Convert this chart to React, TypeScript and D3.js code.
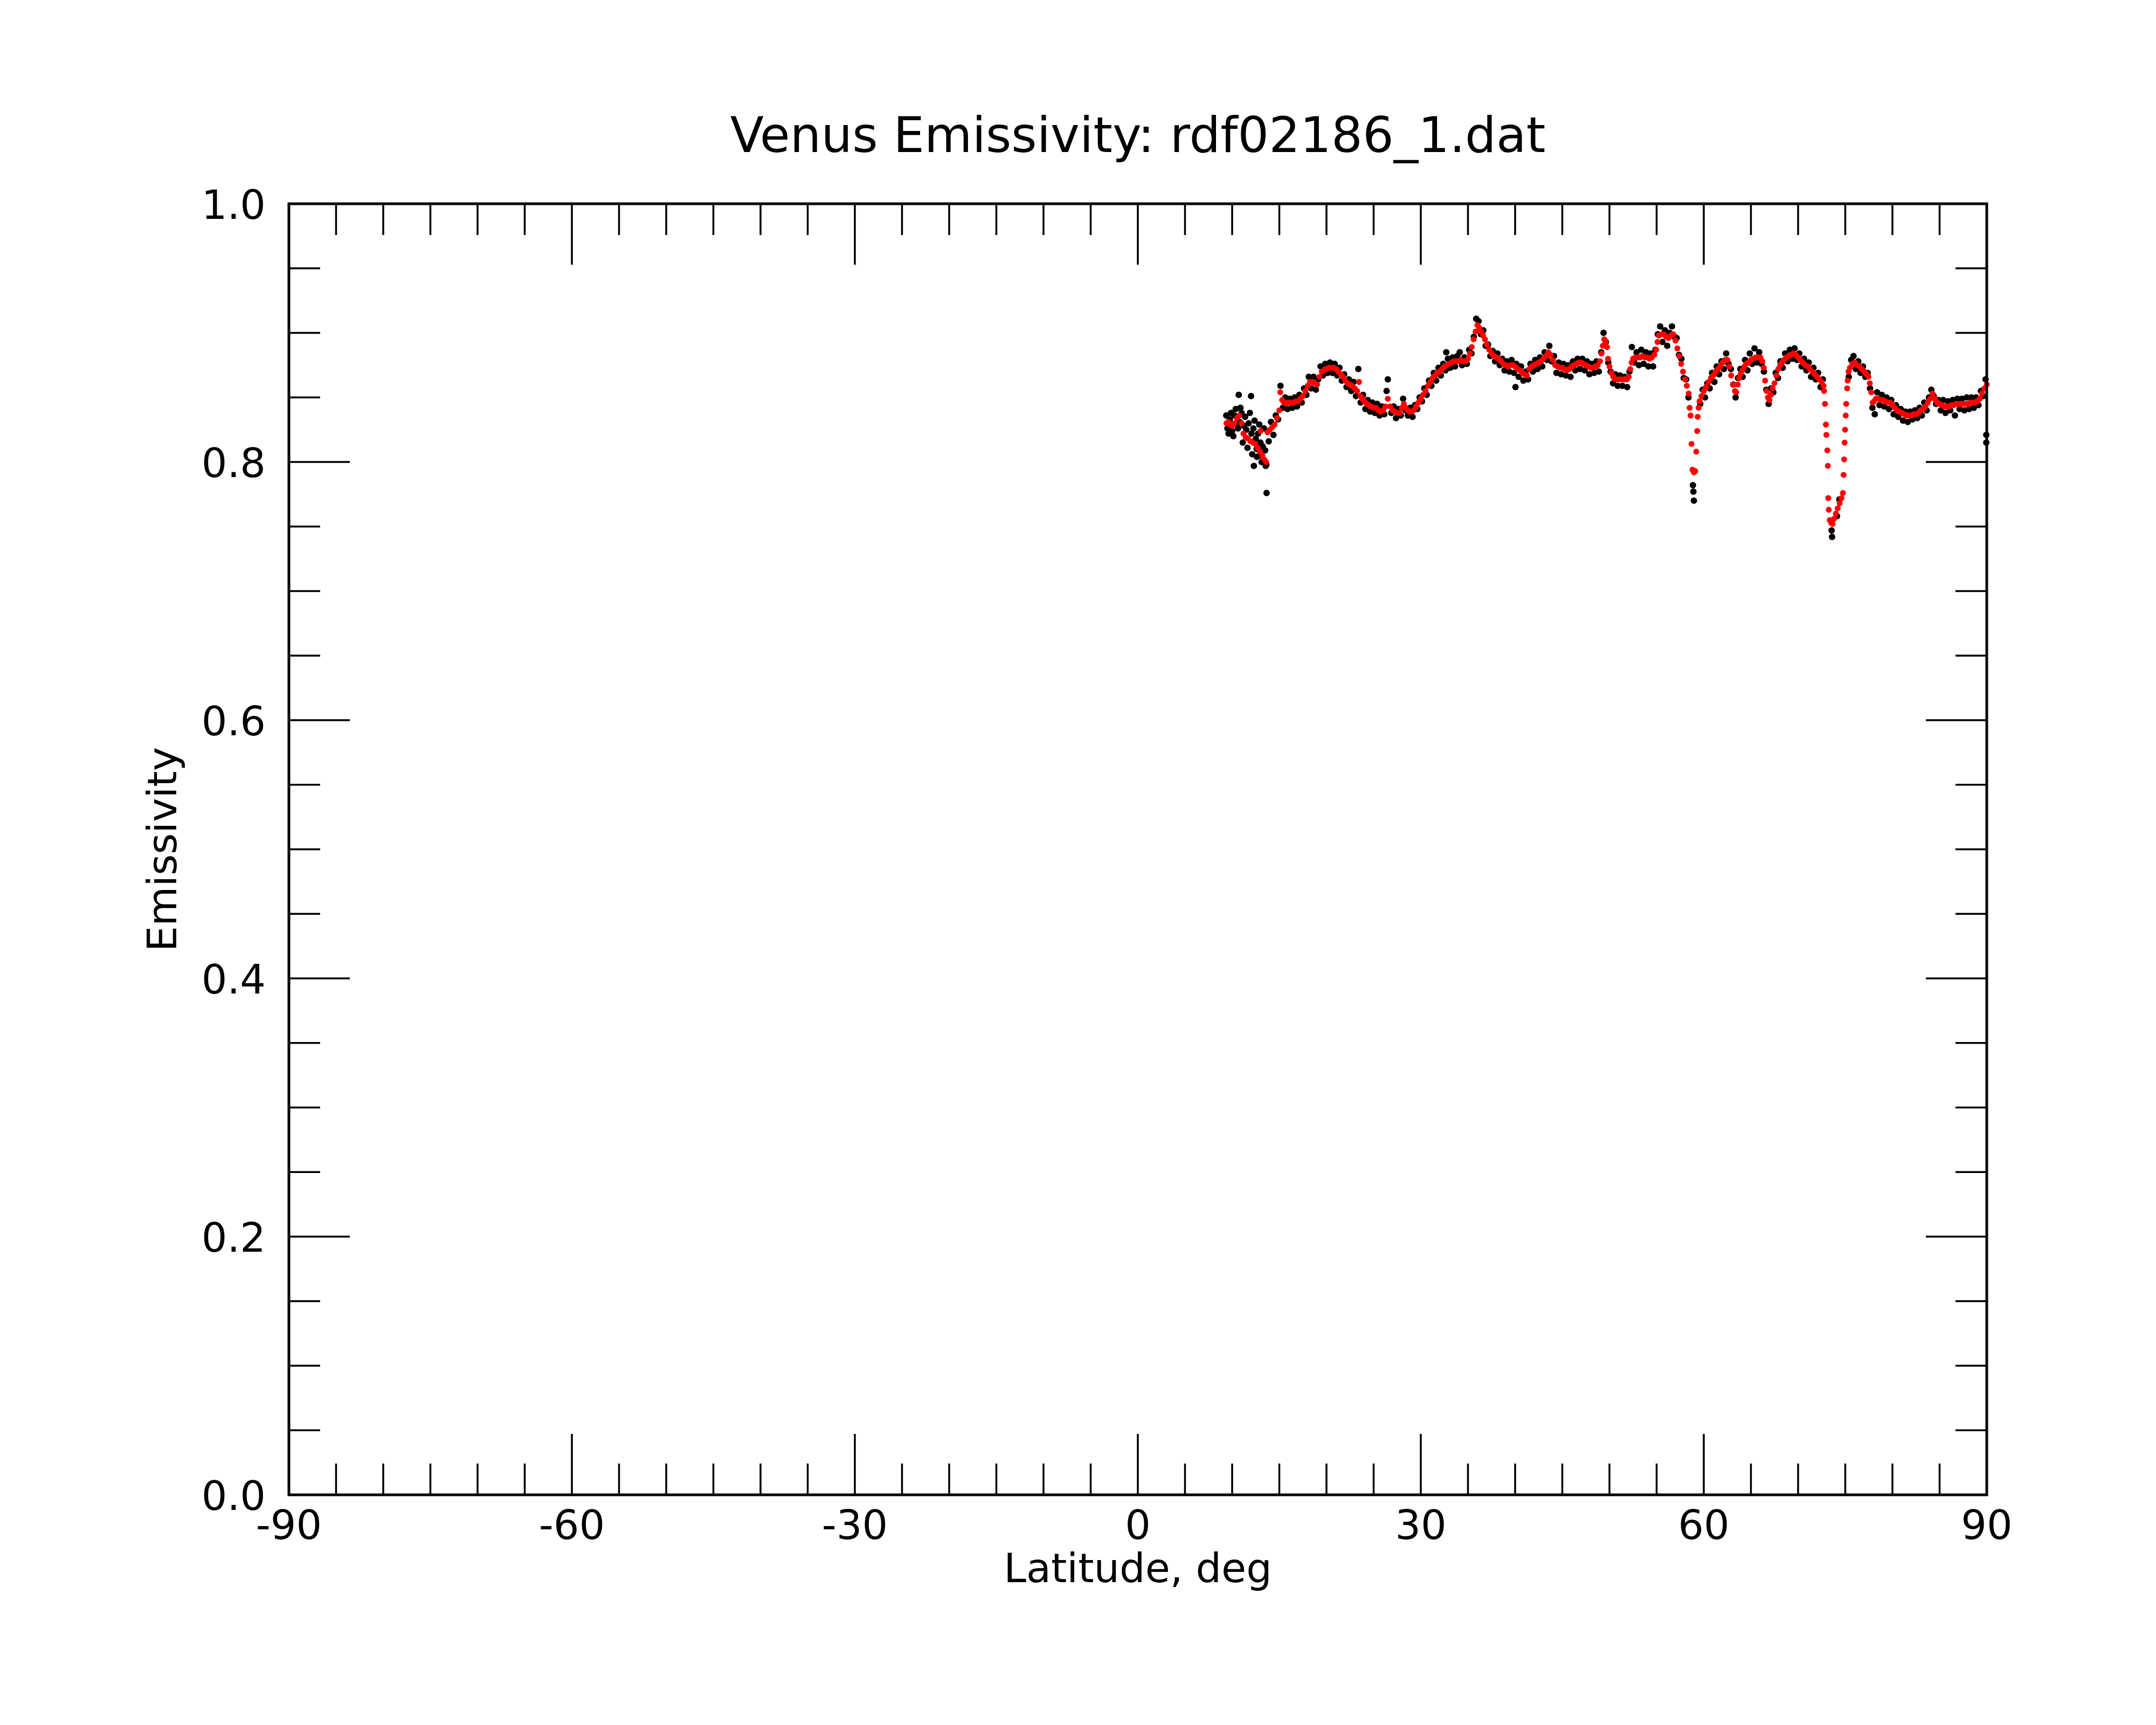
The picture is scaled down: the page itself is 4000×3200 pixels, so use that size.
import * as d3 from 'd3'

// smoothed emissivity (red)
const smoothed: [number, number][] = [
  [9.4,.830],[9.6,.831],[9.8,.829],[10.0,.828],[10.25,.830],[10.5,.834],[10.75,.836],[11.0,.830],[11.2,.822],[11.45,.819],
  [11.7,.818],[11.95,.816],[12.2,.815],[12.45,.814],[12.7,.811],[12.95,.808],[13.0,.824],[13.2,.805],[13.4,.802],[13.6,.800],
  [13.75,.823],[14.0,.825],[14.25,.827],[14.5,.829],[14.75,.834],[15.0,.840],[15.1,.854],[15.3,.848],[15.5,.846],[15.75,.845],
  [16.0,.846],[16.25,.846],[16.5,.846],[16.75,.847],[17.0,.847],[17.25,.849],[17.5,.851],[17.75,.855],[18.0,.859],[18.25,.862],
  [18.5,.862],[18.75,.861],[19.0,.860],[19.25,.866],[19.5,.870],[19.75,.871],[20.0,.872],[20.25,.873],[20.5,.873],[20.75,.873],
  [21.0,.872],[21.25,.870],[21.5,.868],[21.75,.866],[22.0,.863],[22.25,.861],[22.5,.860],[22.75,.859],[23.0,.857],[23.25,.855],
  [23.45,.862],[23.6,.851],[23.8,.849],[24.0,.847],[24.25,.845],[24.5,.844],[24.75,.843],[25.0,.842],[25.25,.842],[25.5,.840],
  [25.75,.839],[26.0,.840],[26.25,.843],[26.5,.849],[26.75,.843],[27.0,.840],[27.25,.839],[27.5,.838],[27.75,.838],[28.0,.842],
  [28.2,.845],[28.4,.842],[28.6,.840],[28.8,.839],[29.0,.839],[29.25,.840],[29.5,.843],[29.75,.846],[30.0,.849],[30.25,.852],
  [30.5,.855],[30.75,.859],[31.0,.862],[31.25,.865],[31.5,.867],[31.75,.869],[32.0,.870],[32.25,.872],[32.5,.874],[32.75,.875],
  [33.0,.876],[33.25,.877],[33.5,.878],[33.75,.878],[34.0,.878],[34.25,.879],[34.5,.878],[34.75,.878],[35.0,.880],[35.2,.884],
  [35.4,.889],[35.6,.895],[35.8,.901],[36.0,.906],[36.2,.904],[36.4,.901],[36.6,.898],[36.8,.895],[37.0,.891],[37.25,.887],
  [37.5,.884],[37.75,.882],[38.0,.881],[38.25,.880],[38.5,.878],[38.75,.876],[39.0,.875],[39.25,.874],[39.5,.875],[39.75,.875],
  [40.0,.874],[40.25,.872],[40.5,.871],[40.75,.869],[41.0,.868],[41.25,.867],[41.5,.872],[41.75,.874],[42.0,.875],[42.25,.876],
  [42.5,.877],[42.75,.878],[43.0,.880],[43.25,.882],[43.5,.885],[43.75,.883],[44.0,.879],[44.25,.875],[44.5,.874],[44.75,.873],
  [45.0,.873],[45.25,.872],[45.5,.871],[45.75,.872],[46.0,.874],[46.25,.875],[46.5,.876],[46.75,.877],[47.0,.877],[47.25,.876],
  [47.5,.875],[47.75,.874],[48.0,.873],[48.25,.873],[48.5,.874],[48.75,.875],[49.0,.878],[49.15,.884],[49.3,.890],[49.45,.895],
  [49.6,.893],[49.75,.889],[49.85,.880],[50.0,.874],[50.2,.869],[50.4,.866],[50.6,.864],[50.85,.864],[51.1,.864],[51.35,.864],
  [51.6,.864],[51.85,.864],[52.05,.866],[52.2,.872],[52.35,.877],[52.5,.880],[52.75,.881],[53.0,.881],[53.25,.881],[53.5,.882],
  [53.75,.881],[54.0,.881],[54.25,.880],[54.5,.881],[54.75,.883],[54.95,.887],[55.1,.893],[55.25,.898],[55.5,.899],[55.75,.899],
  [56.0,.897],[56.25,.896],[56.5,.898],[56.75,.899],[57.0,.894],[57.2,.888],[57.4,.882],[57.6,.876],[57.8,.870],[58.0,.864],
  [58.2,.859],[58.4,.853],[58.5,.842],[58.6,.836],[58.7,.814],[58.8,.794],[58.95,.792],[59.1,.793],[59.2,.808],[59.3,.824],
  [59.35,.835],[59.45,.842],[59.55,.847],[59.75,.851],[60.0,.855],[60.25,.858],[60.5,.862],[60.75,.865],[61.0,.867],[61.25,.870],
  [61.5,.872],[61.75,.874],[62.0,.877],[62.25,.879],[62.5,.879],[62.7,.874],[62.9,.867],[63.1,.860],[63.3,.855],[63.45,.854],
  [63.6,.860],[63.75,.865],[63.9,.868],[64.1,.871],[64.3,.874],[64.5,.876],[64.75,.877],[65.0,.879],[65.25,.880],[65.5,.881],
  [65.75,.881],[66.0,.881],[66.2,.878],[66.35,.873],[66.5,.863],[66.65,.855],[66.8,.850],[66.95,.848],[67.1,.852],[67.3,.857],
  [67.5,.861],[67.7,.867],[67.9,.872],[68.1,.875],[68.3,.877],[68.5,.879],[68.75,.881],[69.0,.882],[69.25,.883],[69.5,.884],
  [69.75,.883],[70.0,.881],[70.25,.879],[70.5,.877],[70.75,.875],[71.0,.874],[71.25,.872],[71.5,.870],[71.75,.868],[72.0,.866],
  [72.25,.864],[72.5,.862],[72.7,.859],[72.75,.855],[72.85,.845],[72.95,.829],[73.0,.821],[73.1,.809],[73.15,.797],[73.2,.772],
  [73.25,.763],[73.35,.755],[73.5,.753],[73.65,.752],[73.8,.756],[74.0,.760],[74.2,.764],[74.4,.768],[74.6,.772],[74.75,.776],
  [74.82,.790],[74.88,.802],[74.93,.815],[74.98,.825],[75.05,.836],[75.1,.845],[75.2,.857],[75.25,.863],[75.35,.870],[75.5,.873],
  [75.75,.876],[76.0,.877],[76.25,.875],[76.5,.874],[76.75,.872],[77.0,.870],[77.25,.868],[77.45,.866],[77.6,.861],[77.75,.854],
  [77.9,.846],[78.05,.847],[78.25,.849],[78.5,.849],[78.75,.848],[79.0,.848],[79.25,.847],[79.5,.846],[79.75,.846],[80.0,.844],
  [80.25,.842],[80.5,.840],[80.75,.839],[81.0,.838],[81.25,.837],[81.5,.836],[81.75,.836],[82.0,.836],[82.25,.837],[82.5,.837],
  [82.75,.838],[83.0,.840],[83.25,.841],[83.5,.843],[83.75,.846],[84.0,.849],[84.25,.853],[84.5,.849],[84.75,.846],[85.0,.845],
  [85.25,.844],[85.5,.843],[85.75,.843],[86.0,.843],[86.25,.844],[86.5,.844],[86.75,.845],[87.0,.845],[87.25,.845],[87.5,.845],
  [87.75,.845],[88.0,.845],[88.25,.846],[88.5,.846],[88.75,.846],[89.0,.847],[89.25,.849],[89.5,.853],[89.75,.857],[90.0,.860],
]

// raw emissivity samples (black)
const measured: [number, number][] = [
  [9.375,.836],[9.5,.826],[9.625,.822],[9.75,.833],[9.875,.838],[10.0,.824],[10.125,.820],[10.25,.836],[10.375,.841],[10.5,.829],
  [10.625,.826],[10.7,.852],[10.8,.831],[10.875,.842],[11.0,.838],[11.125,.815],[11.25,.828],[11.375,.835],[11.5,.825],[11.625,.811],
  [11.75,.830],[11.875,.838],[12.0,.851],[12.05,.822],[12.125,.806],[12.25,.826],[12.3,.797],[12.375,.832],[12.5,.818],[12.6,.810],
  [12.625,.804],[12.75,.822],[12.875,.829],[12.9,.805],[13.0,.815],[13.125,.800],[13.25,.812],[13.375,.826],[13.5,.809],[13.56,.797],
  [13.625,.798],[13.65,.776],[13.875,.816],[14.125,.831],[14.375,.821],[14.625,.836],[14.875,.833],[15.125,.859],[15.375,.842],
  [15.625,.850],[15.875,.841],[16.125,.849],[16.375,.842],[16.625,.850],[16.875,.843],[17.125,.852],[17.375,.846],[17.625,.857],[17.875,.852],
  [18.125,.866],[18.375,.857],[18.625,.866],[18.875,.856],[19.125,.864],[19.375,.874],[19.625,.867],[19.875,.876],[20.125,.869],[20.375,.877],
  [20.625,.869],[20.875,.876],[21.125,.867],[21.375,.873],[21.625,.863],[21.875,.868],[22.125,.858],[22.375,.864],[22.625,.855],[22.875,.862],
  [23.125,.851],[23.375,.872],[23.625,.846],[23.875,.852],[24.125,.841],[24.375,.848],[24.625,.839],[24.875,.846],[25.125,.838],[25.375,.845],
  [25.625,.836],[25.875,.843],[26.125,.837],[26.375,.855],[26.5,.864],[26.875,.838],[27.125,.843],[27.375,.834],[27.625,.841],[27.875,.836],
  [28.125,.849],[28.375,.840],[28.625,.836],[28.875,.842],[29.125,.835],[29.375,.844],[29.625,.841],[29.875,.850],[30.125,.847],[30.375,.857],
  [30.625,.852],[30.875,.863],[31.125,.859],[31.375,.869],[31.625,.863],[31.875,.873],[32.125,.867],[32.375,.876],[32.625,.871],[32.7,.885],
  [32.875,.880],[33.125,.873],[33.375,.881],[33.625,.874],[33.875,.882],[34.125,.885],[34.375,.875],[34.625,.881],[34.875,.876],[35.125,.887],
  [35.375,.884],[35.625,.897],[35.875,.911],[36.125,.909],[36.375,.899],[36.625,.902],[36.875,.890],[37.125,.891],[37.375,.882],[37.625,.886],
  [37.875,.878],[38.125,.884],[38.375,.875],[38.625,.880],[38.875,.871],[39.125,.878],[39.375,.870],[39.625,.879],[39.875,.869],[40.04,.858],
  [40.125,.876],[40.375,.866],[40.625,.874],[40.875,.863],[41.125,.870],[41.375,.864],[41.625,.876],[41.875,.870],[42.125,.879],[42.375,.872],
  [42.625,.881],[42.875,.874],[43.125,.885],[43.375,.879],[43.625,.890],[43.875,.878],[44.125,.882],[44.375,.869],[44.625,.877],[44.875,.868],
  [45.125,.876],[45.375,.867],[45.625,.875],[45.875,.866],[46.125,.878],[46.375,.871],[46.625,.880],[46.875,.872],[47.125,.880],[47.375,.871],
  [47.625,.878],[47.875,.868],[48.125,.876],[48.375,.869],[48.625,.878],[48.875,.870],[49.125,.885],[49.375,.900],[49.625,.893],[49.875,.877],
  [50.125,.870],[50.375,.861],[50.625,.868],[50.875,.859],[51.125,.867],[51.375,.859],[51.625,.866],[51.875,.858],[52.125,.870],[52.375,.889],
  [52.625,.877],[52.875,.885],[53.125,.875],[53.375,.887],[53.625,.876],[53.875,.885],[54.125,.874],[54.375,.884],[54.625,.874],[54.875,.887],
  [55.125,.899],[55.375,.905],[55.625,.893],[55.875,.902],[56.125,.890],[56.375,.900],[56.625,.905],[56.875,.897],[57.125,.896],[57.375,.883],
  [57.625,.880],[57.875,.865],[58.125,.864],[58.375,.850],[58.85,.782],[58.9,.777],[58.95,.770],[59.625,.845],[59.875,.856],[60.125,.850],
  [60.375,.861],[60.625,.857],[60.875,.869],[61.125,.862],[61.375,.874],[61.625,.868],[61.875,.878],[62.125,.872],[62.375,.884],[62.625,.876],
  [62.875,.872],[63.125,.860],[63.375,.850],[63.625,.865],[63.875,.872],[64.125,.866],[64.375,.879],[64.625,.871],[64.875,.884],[65.125,.876],
  [65.375,.888],[65.625,.877],[65.875,.885],[66.125,.876],[66.375,.870],[66.625,.856],[66.875,.845],[67.125,.857],[67.375,.854],[67.625,.869],
  [67.875,.865],[68.125,.878],[68.375,.873],[68.625,.884],[68.875,.878],[69.125,.887],[69.375,.880],[69.625,.888],[69.875,.879],[70.125,.884],
  [70.375,.874],[70.625,.880],[70.875,.871],[71.125,.877],[71.375,.866],[71.625,.873],[71.875,.864],[72.125,.869],[72.375,.858],[72.625,.864],
  [73.55,.747],[73.6,.742],[74.125,.758],[74.375,.771],[75.375,.866],[75.625,.879],[75.875,.882],[76.125,.872],[76.375,.878],[76.625,.869],
  [76.875,.874],[77.125,.866],[77.375,.869],[77.625,.857],[77.875,.842],[78.125,.837],[78.375,.854],[78.625,.844],[78.875,.852],[79.125,.843],
  [79.375,.850],[79.625,.841],[79.875,.848],[80.125,.837],[80.375,.844],[80.625,.835],[80.875,.841],[81.125,.832],[81.375,.839],[81.625,.831],
  [81.875,.839],[82.125,.833],[82.375,.840],[82.625,.834],[82.875,.842],[83.125,.836],[83.375,.846],[83.625,.840],[83.875,.850],[84.125,.856],
  [84.375,.851],[84.625,.845],[84.875,.848],[85.125,.840],[85.375,.848],[85.625,.838],[85.875,.847],[86.125,.840],[86.375,.848],[86.625,.836],
  [86.875,.849],[87.125,.841],[87.375,.849],[87.625,.840],[87.875,.850],[88.125,.841],[88.375,.850],[88.625,.842],[88.875,.850],[89.125,.844],
  [89.375,.855],[89.625,.851],[89.875,.864],[89.95,.821],[89.95,.815],
]

const xMajorTicks = [-90, -60, -30, 0, 30, 60, 90]
const xMinorTicks = d3.range(-90, 90.1, 5)
const yMajorTicks = [0, 0.2, 0.4, 0.6, 0.8, 1.0]
const yMinorTicks = d3.range(0, 1.001, 0.05)

const W = 4000
const H = 3200
const margin = { top: 378, right: 314, bottom: 427, left: 536 }
const font = 'DejaVu Sans, sans-serif'

export default function App() {
  const x = d3.scaleLinear().domain([-90, 90]).range([margin.left, W - margin.right])
  const y = d3.scaleLinear().domain([0, 1]).range([H - margin.bottom, margin.top])
  const [x0, x1] = x.range()
  const [y0, y1] = y.range()
  const majorLen = 113
  const minorLen = 58

  return (
    <svg
      width={W}
      height={H}
      style={{ position: 'absolute', left: 0, top: 0, background: '#fff' }}
      fontFamily={font}
    >
      <rect width={W} height={H} fill="#fff" />
      <text x={(x0 + x1) / 2} y={282} fontSize={91} textAnchor="middle">
        Venus Emissivity: rdf02186_1.dat
      </text>

      {/* ticks, both sides, pointing in */}
      <g stroke="#000" strokeWidth={3.5}>
        {xMinorTicks.map((t) => {
          const len = xMajorTicks.includes(t) ? majorLen : minorLen
          return (
            <g key={`xt-${t}`}>
              <line x1={x(t)} x2={x(t)} y1={y0} y2={y0 - len} />
              <line x1={x(t)} x2={x(t)} y1={y1} y2={y1 + len} />
            </g>
          )
        })}
        {yMinorTicks.map((t) => {
          const major = yMajorTicks.some((m) => Math.abs(m - t) < 1e-6)
          const len = major ? majorLen : minorLen
          return (
            <g key={`yt-${t.toFixed(2)}`}>
              <line x1={x0} x2={x0 + len} y1={y(t)} y2={y(t)} />
              <line x1={x1} x2={x1 - len} y1={y(t)} y2={y(t)} />
            </g>
          )
        })}
      </g>

      <g fontSize={75}>
        {xMajorTicks.map((t) => (
          <text key={`xl-${t}`} x={x(t)} y={y0 + 82} textAnchor="middle">
            {t}
          </text>
        ))}
        {yMajorTicks.map((t) => (
          <text key={`yl-${t}`} x={x0 - 43} y={y(t) + 28} textAnchor="end">
            {t.toFixed(1)}
          </text>
        ))}
      </g>

      <text x={(x0 + x1) / 2} y={2935} fontSize={75} textAnchor="middle">
        Latitude, deg
      </text>
      <text
        transform={`translate(327, ${(y0 + y1) / 2}) rotate(-90)`}
        fontSize={75}
        textAnchor="middle"
      >
        Emissivity
      </text>

      <g fill="#000">
        {measured.map(([lat, v], i) => (
          <circle key={`m-${i}`} cx={x(lat)} cy={y(v)} r={6} />
        ))}
      </g>
      <g fill="#ff0000">
        {smoothed.map(([lat, v], i) => (
          <circle key={`s-${i}`} cx={x(lat)} cy={y(v)} r={5.5} />
        ))}
      </g>

      <rect
        x={x0}
        y={y1}
        width={x1 - x0}
        height={y0 - y1}
        fill="none"
        stroke="#000"
        strokeWidth={5}
      />
    </svg>
  )
}
